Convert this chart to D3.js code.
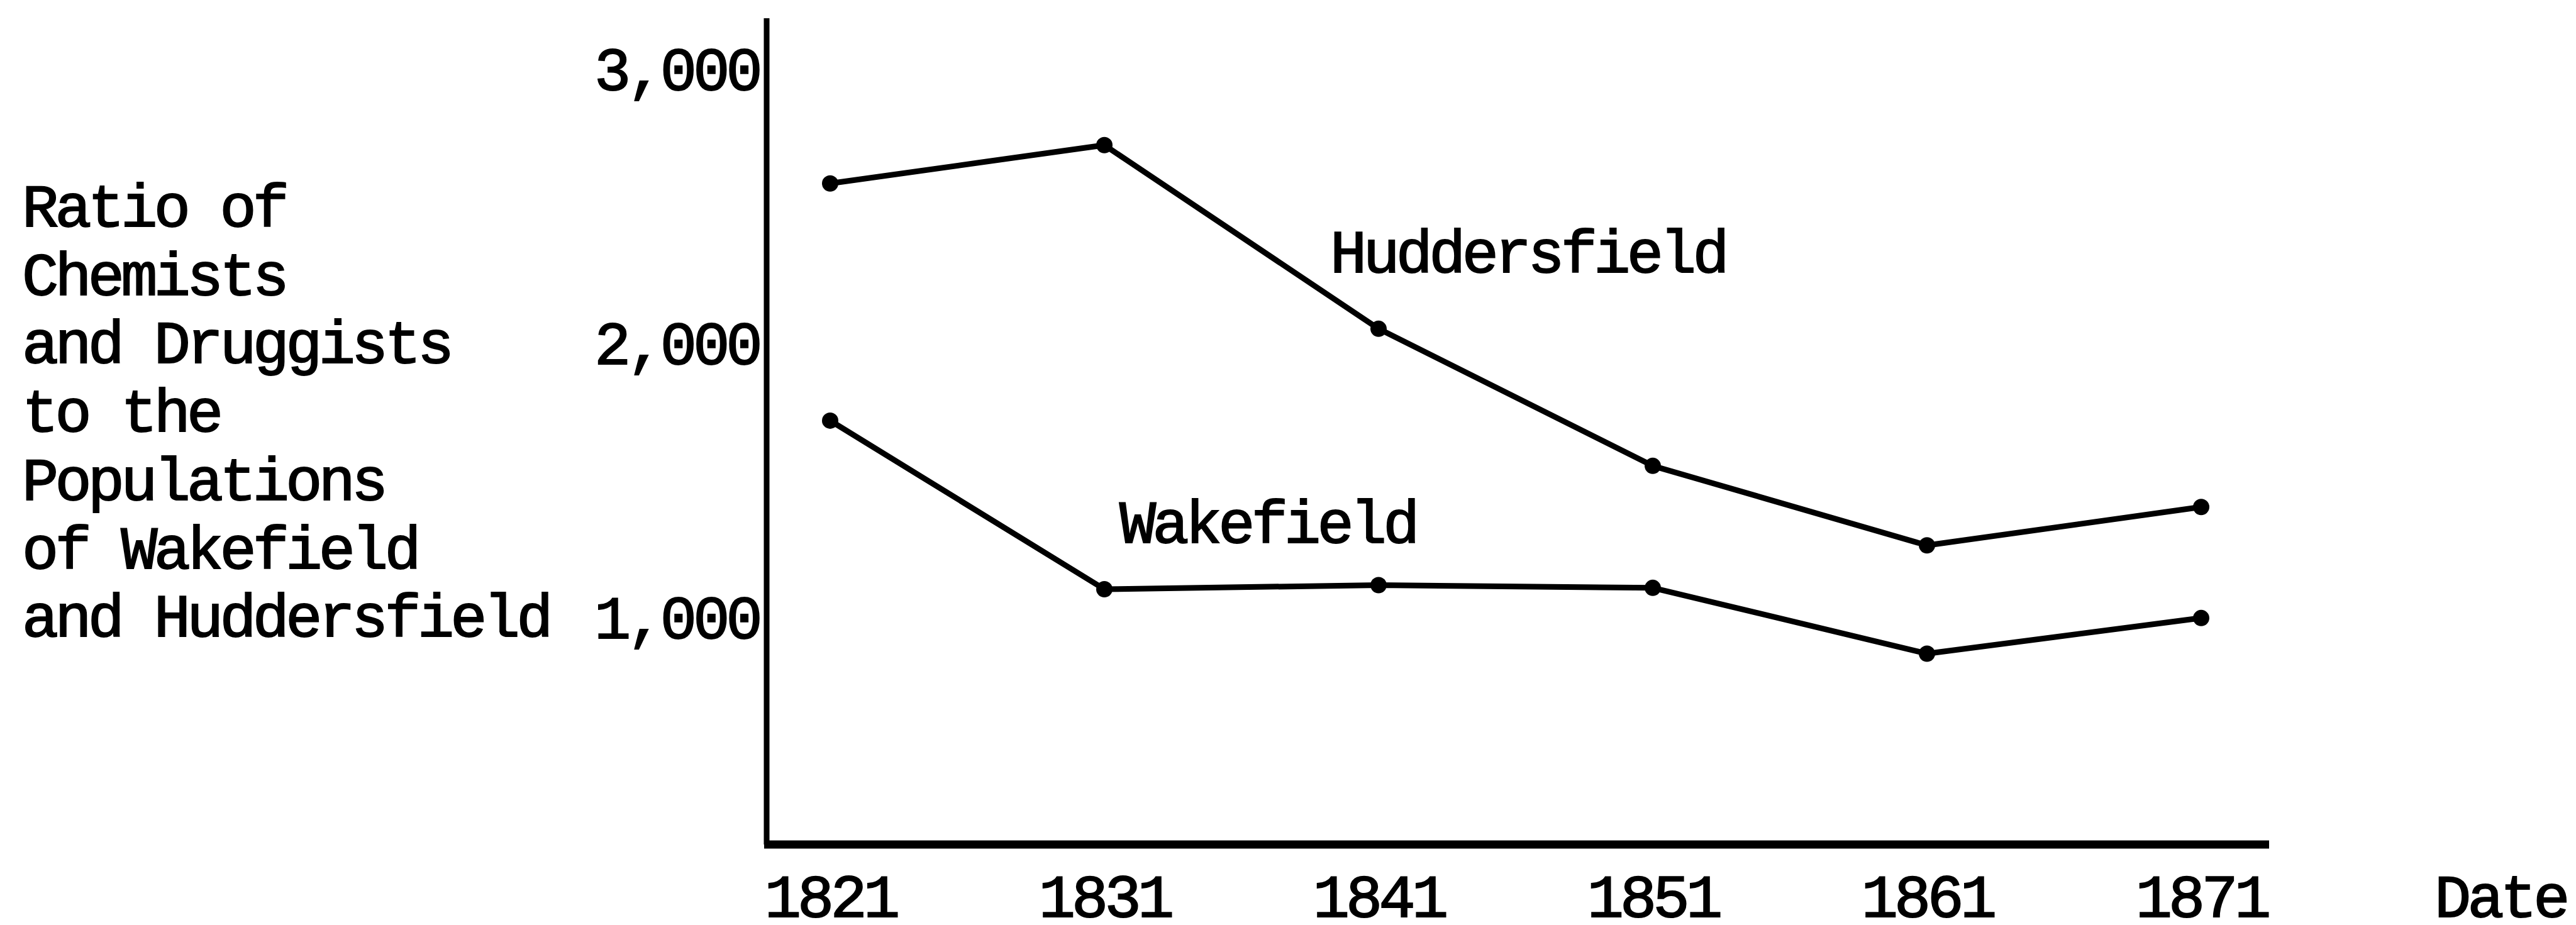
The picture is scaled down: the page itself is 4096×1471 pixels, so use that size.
<!DOCTYPE html>
<html>
<head>
<meta charset="utf-8">
<script src="https://cdn.jsdelivr.net/npm/d3@7"></script>
<style>
  body { margin: 0; background: #fff; }
  text {
    font-family: "Liberation Mono", "DejaVu Sans Mono", monospace;
    fill: #000;
    stroke: #000;
    stroke-width: 2px;
  }
</style>
</head>
<body>
<script>
// Datos
const anios = [1821, 1831, 1841, 1851, 1861, 1871];
const huddersfield = [2590, 2730, 2060, 1560, 1270, 1410];
const wakefield = [1725, 1110, 1125, 1115, 875, 1005];
const ticksY = [1000, 2000, 3000];
const tituloY = ["Ratio of", "Chemists", "and Druggists", "to the", "Populations", "of Wakefield", "and Huddersfield"];

const ancho = 4096;
const alto = 1471;
const fuente = 97;
const espacio = "-5.8px"; // letras de máquina de escribir, más estrechas

// Creamos el SVG en body
const svg = d3.select("body").append("svg")
  .attr("width", ancho)
  .attr("height", alto);

// Escalas
const x = d3.scaleLinear().domain([1821, 1871]).range([1320, 3500]);
const y = d3.scaleLinear().domain([1000, 3000]).range([985, 113]);

const ejeX = 1343; // posición vertical del eje de fechas
const ejeYx = 1219; // posición horizontal del eje de valores

// Función para dar el mismo estilo a todos los textos
function estiloTexto(sel) {
  sel.style("font-size", fuente + "px")
    .style("letter-spacing", espacio)
    .style("font-family", null);
}

// Líneas de los ejes
svg.append("line")
  .attr("x1", ejeYx).attr("x2", ejeYx)
  .attr("y1", 29).attr("y2", ejeX)
  .attr("stroke", "#000").attr("stroke-width", 9);

svg.append("line")
  .attr("x1", ejeYx - 4).attr("x2", 3608)
  .attr("y1", ejeX).attr("y2", ejeX)
  .attr("stroke", "#000").attr("stroke-width", 13);

// Eje Y: solo las etiquetas
const gY = svg.append("g")
  .attr("transform", `translate(${ejeYx},0)`)
  .call(d3.axisLeft(y).tickValues(ticksY).tickFormat(d3.format(",")).tickSize(0).tickPadding(12));
gY.select(".domain").remove();
gY.selectAll("text")
  .attr("dy", 0)
  .attr("y", 29)
  .call(estiloTexto);

// Eje X: los años
const gX = svg.append("g")
  .attr("transform", `translate(0,${ejeX})`)
  .call(d3.axisBottom(x).tickValues(anios).tickFormat(d3.format("d")).tickSize(0));
gX.select(".domain").remove();
gX.selectAll("text")
  .attr("dy", 0)
  .attr("y", 115)
  .call(estiloTexto);

svg.append("text")
  .attr("x", 3871).attr("y", 1458)
  .call(estiloTexto)
  .text("Date");

// Título del eje Y en varias líneas
svg.append("text")
  .attr("x", 35).attr("y", 360)
  .call(estiloTexto)
  .selectAll("tspan")
  .data(tituloY)
  .join("tspan")
  .attr("x", 35)
  .attr("dy", (_, i) => i === 0 ? 0 : 108.7)
  .text(d => d);

// Series
const series = [
  { nombre: "Huddersfield", valores: huddersfield, lx: 2115, ly: 433 },
  { nombre: "Wakefield", valores: wakefield, lx: 1780, ly: 863 }
];

const linea = d3.line()
  .x((d, i) => x(anios[i]))
  .y(d => y(d));

series.forEach(s => {
  svg.append("path")
    .attr("d", linea(s.valores))
    .attr("fill", "none")
    .attr("stroke", "#000")
    .attr("stroke-width", 9)
    .attr("stroke-linejoin", "round");

  svg.selectAll(null)
    .data(s.valores)
    .enter().append("circle")
    .attr("cx", (_, i) => x(anios[i]))
    .attr("cy", d => y(d))
    .attr("r", 13)
    .attr("fill", "#000");

  svg.append("text")
    .attr("x", s.lx).attr("y", s.ly)
    .call(estiloTexto)
    .text(s.nombre);
});
</script>
</body>
</html>
